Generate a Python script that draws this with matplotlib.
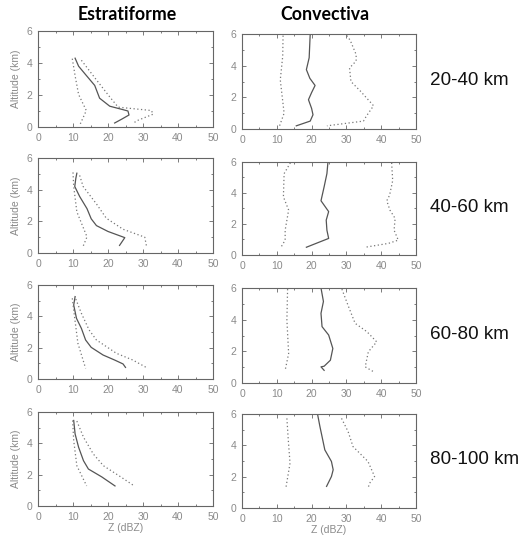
import matplotlib
matplotlib.use("Agg")
import matplotlib.pyplot as plt
from matplotlib.ticker import MultipleLocator

# Estratiforme, 20-40 km
e1_mean_x = [10.6, 11.6, 13.5, 16.2, 17.6, 20.5, 24.0, 25.7, 26.0, 24.0, 21.9]
e1_mean_y = [4.3, 3.8, 3.3, 2.6, 1.8, 1.3, 1.1, 1.0, 0.75, 0.5, 0.25]
e1_lo_x = [9.8, 10.6, 11.6, 13.8, 12.1]
e1_lo_y = [4.27, 3.2, 2.03, 1.03, 0.2]
e1_hi_x = [12.4, 16.5, 20.5, 22.9, 32.4, 32.9, 28.1, 27.1]
e1_hi_y = [4.17, 3.0, 1.88, 1.24, 1.03, 0.8, 0.38, 0.2]

# Convectiva, 20-40 km
c1_mean_x = [19.6, 19.4, 19.3, 18.5, 19.5, 21.0, 20.0, 19.1, 20.0, 20.4, 19.6, 15.6]
c1_mean_y = [6.0, 5.0, 4.5, 3.75, 3.2, 2.75, 2.3, 1.85, 1.3, 0.9, 0.5, 0.2]
c1_lo_x = [11.8, 11.7, 11.0, 12.1, 10.8]
c1_lo_y = [5.9, 4.6, 3.1, 1.0, 0.2]
c1_hi_x = [30.1, 31.1, 32.8, 32.8, 30.9, 31.3, 34.0, 37.8, 35.7, 34.9, 24.4]
c1_hi_y = [5.9, 5.6, 4.7, 4.3, 3.85, 3.0, 2.4, 1.47, 0.8, 0.5, 0.2]

# Estratiforme, 40-60 km
e2_mean_x = [11.1, 10.8, 10.5, 11.9, 14.0, 15.2, 16.7, 20.0, 24.8, 23.3]
e2_mean_y = [5.04, 4.7, 4.2, 3.57, 2.8, 2.16, 1.73, 1.36, 0.97, 0.48]
e2_lo_x = [10.0, 10.2, 11.1, 14.0, 12.9]
e2_lo_y = [5.09, 4.2, 2.6, 1.02, 0.43]
e2_hi_x = [11.9, 12.9, 16.7, 19.5, 24.3, 30.5, 31.0]
e2_hi_y = [4.9, 4.2, 3.1, 2.2, 1.5, 1.0, 0.43]

# Convectiva, 40-60 km
c2_mean_x = [24.7, 24.4, 23.6, 22.7, 24.9, 24.2, 24.4, 24.9, 21.3, 18.5]
c2_mean_y = [6.0, 5.25, 4.4, 3.5, 2.8, 2.25, 1.6, 1.07, 0.75, 0.5]
c2_lo_x = [13.9, 12.1, 11.9, 13.4, 12.4, 12.4, 11.2]
c2_lo_y = [5.95, 5.25, 3.75, 2.9, 1.6, 0.96, 0.5]
c2_hi_x = [43.0, 43.3, 42.4, 41.6, 42.5, 44.0, 43.7, 44.9, 42.1, 35.4]
c2_hi_y = [5.95, 4.8, 3.85, 3.5, 2.9, 2.36, 1.6, 0.96, 0.75, 0.5]

# Estratiforme, 60-80 km
e3_mean_x = [10.6, 10.2, 11.0, 12.4, 13.6, 15.2, 18.6, 21.9, 24.3, 25.0]
e3_mean_y = [5.26, 4.72, 3.87, 3.23, 2.49, 2.02, 1.53, 1.21, 0.96, 0.74]
e3_lo_x = [9.8, 10.5, 11.4, 13.6]
e3_lo_y = [5.15, 3.87, 2.28, 0.68]
e3_hi_x = [10.8, 12.4, 14.6, 16.7, 22.4, 27.1, 31.4]
e3_hi_y = [5.1, 4.19, 3.13, 2.49, 1.64, 1.21, 0.68]

# Convectiva, 60-80 km
c3_mean_x = [22.7, 23.4, 22.7, 23.0, 24.9, 26.1, 25.4, 23.6, 22.7, 23.6]
c3_mean_y = [6.0, 5.15, 4.4, 3.56, 3.03, 2.18, 1.44, 1.06, 1.02, 0.8]
c3_lo_x = [13.1, 12.9, 13.4, 12.4]
c3_lo_y = [5.93, 3.98, 1.86, 0.8]
c3_hi_x = [28.7, 30.6, 32.5, 35.9, 38.7, 36.3, 35.4, 37.9]
c3_hi_y = [5.93, 4.83, 3.77, 3.24, 2.6, 1.97, 1.02, 0.7]

# Estratiforme, 80-100 km
e4_mean_x = [10.2, 10.6, 11.6, 13.0, 14.4, 18.2, 22.0]
e4_mean_y = [5.46, 4.6, 3.75, 2.89, 2.36, 1.86, 1.28]
e4_lo_x = [9.9, 10.2, 11.1, 13.9]
e4_lo_y = [5.46, 4.18, 2.57, 1.28]
e4_hi_x = [11.1, 13.0, 15.8, 18.7, 23.9, 27.5]
e4_hi_y = [5.42, 4.39, 3.32, 2.57, 1.82, 1.28]

# Convectiva, 80-100 km
c4_mean_x = [21.7, 22.4, 23.0, 23.8, 25.7, 26.2, 25.7, 24.3]
c4_mean_y = [6.0, 5.19, 4.56, 3.71, 2.97, 2.44, 2.01, 1.38]
c4_lo_x = [12.9, 13.3, 13.8, 12.6]
c4_lo_y = [5.72, 4.34, 2.86, 1.27]
c4_hi_x = [28.6, 30.5, 31.9, 34.3, 36.2, 38.1, 36.7, 36.2]
c4_hi_y = [5.72, 4.87, 3.92, 3.39, 2.97, 2.01, 1.59, 1.27]

ranges = ["20-40 km", "40-60 km", "60-80 km", "80-100 km"]

estrat = [
    (e1_mean_x, e1_mean_y, e1_lo_x, e1_lo_y, e1_hi_x, e1_hi_y),
    (e2_mean_x, e2_mean_y, e2_lo_x, e2_lo_y, e2_hi_x, e2_hi_y),
    (e3_mean_x, e3_mean_y, e3_lo_x, e3_lo_y, e3_hi_x, e3_hi_y),
    (e4_mean_x, e4_mean_y, e4_lo_x, e4_lo_y, e4_hi_x, e4_hi_y),
]
convec = [
    (c1_mean_x, c1_mean_y, c1_lo_x, c1_lo_y, c1_hi_x, c1_hi_y),
    (c2_mean_x, c2_mean_y, c2_lo_x, c2_lo_y, c2_hi_x, c2_hi_y),
    (c3_mean_x, c3_mean_y, c3_lo_x, c3_lo_y, c3_hi_x, c3_hi_y),
    (c4_mean_x, c4_mean_y, c4_lo_x, c4_lo_y, c4_hi_x, c4_hi_y),
]

W, H = 522, 539
left_rows = [(31, 127), (158, 253), (285, 379), (412, 506)]
right_rows = [(34, 129), (162, 255), (288, 383), (414, 508)]

tick_color = "#8a8a8a"
plt.rcParams["font.family"] = ["Liberation Sans", "DejaVu Sans"]

fig = plt.figure(figsize=(W / 100, H / 100), dpi=100)


def style_axes(ax, ylabel):
    ax.set_xlim(0, 50)
    ax.set_ylim(0, 6)
    ax.xaxis.set_major_locator(MultipleLocator(10))
    ax.xaxis.set_minor_locator(MultipleLocator(5))
    ax.yaxis.set_major_locator(MultipleLocator(2))
    ax.yaxis.set_minor_locator(MultipleLocator(1))
    ax.tick_params(which="both", direction="in", top=True, right=True,
                   color="#666666", width=0.6, labelsize=7.5,
                   labelcolor=tick_color, pad=4)
    ax.tick_params(which="major", length=3)
    ax.tick_params(which="minor", length=1.5)
    for s in ax.spines.values():
        s.set_color("#666666")
        s.set_linewidth(0.8)
    if ylabel:
        ax.set_ylabel("Altitude (km)", fontsize=7.5, color=tick_color, labelpad=4)


def draw(ax, d):
    mx, my, lx, ly, hx, hy = d
    ax.plot(mx, my, color="#555555", lw=0.9)
    ax.plot(lx, ly, color="#777777", lw=0.9, ls=(0, (1, 2)))
    ax.plot(hx, hy, color="#777777", lw=0.9, ls=(0, (1, 2)))


for i in range(4):
    t, b = left_rows[i]
    axl = fig.add_axes([38 / W, 1 - b / H, 175 / W, (b - t) / H])
    style_axes(axl, True)
    draw(axl, estrat[i])

    t, b = right_rows[i]
    axr = fig.add_axes([242 / W, 1 - b / H, 174 / W, (b - t) / H])
    style_axes(axr, False)
    draw(axr, convec[i])

    fig.text(430 / W, 1 - ((t + b) / 2 - 1) / H, ranges[i], fontsize=13.6,
             ha="left", va="center", color="#111111")

    if i == 3:
        axl.set_xlabel("Z (dBZ)", fontsize=7.5, color=tick_color, labelpad=1)
        axr.set_xlabel("Z (dBZ)", fontsize=7.5, color=tick_color, labelpad=1)

fig.text(127 / W, 1 - 14 / H, "Estratiforme", fontsize=12.8, fontweight="bold",
         family=["Lato", "DejaVu Sans"], ha="center", va="center")
fig.text(325 / W, 1 - 14 / H, "Convectiva", fontsize=12.8, fontweight="bold",
         family=["Lato", "DejaVu Sans"], ha="center", va="center")

fig.savefig("out.png", dpi=100)
